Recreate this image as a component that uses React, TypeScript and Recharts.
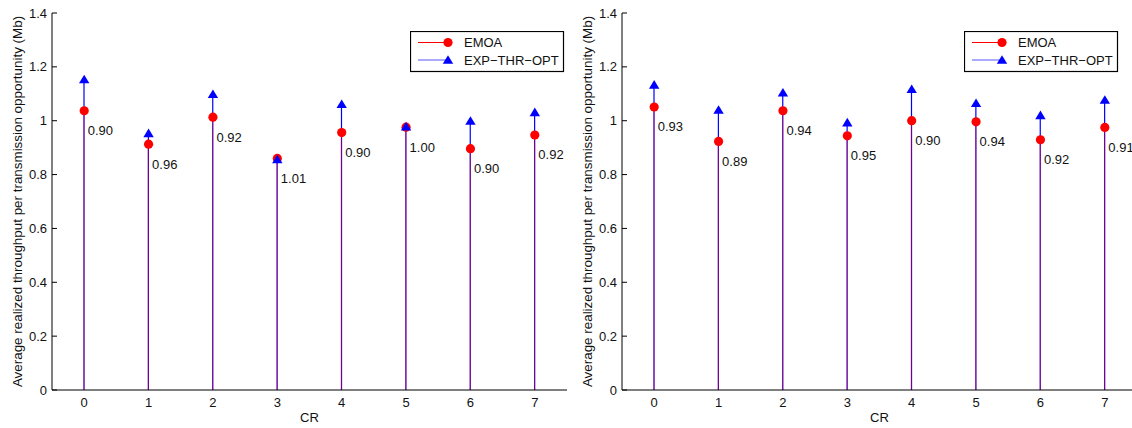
import React from 'react';
import {
  ComposedChart, Bar, Line, XAxis, YAxis, Legend, LabelList
} from 'recharts';

// CR categories shared by both panels
const crLabels = ['0', '1', '2', '3', '4', '5', '6', '7'];
const yTicks = [0, 0.2, 0.4, 0.6, 0.8, 1, 1.2, 1.4];

// left panel
const emoaLeft = [1.037, 0.913, 1.013, 0.86, 0.956, 0.976, 0.896, 0.947];
const optLeft = [1.153, 0.953, 1.098, 0.856, 1.061, 0.978, 0.999, 1.031];
const ratioLeft = ['0.90', '0.96', '0.92', '1.01', '0.90', '1.00', '0.90', '0.92'];

// right panel
const emoaRight = [1.051, 0.923, 1.037, 0.944, 1.0, 0.996, 0.929, 0.975];
const optRight = [1.133, 1.04, 1.104, 0.993, 1.117, 1.065, 1.02, 1.077];
const ratioRight = ['0.93', '0.89', '0.94', '0.95', '0.90', '0.94', '0.92', '0.91'];

const FONT = '"Liberation Sans", Arial, Helvetica, sans-serif';
const RED = '#ff0000';
const BLUE = '#0000ff';
const TXT = '#111';

const W = 580;
const H = 428;

const buildRows = (emoa: number[], opt: number[], ratio: string[]) =>
  crLabels.map((cr, i) => ({ cr, emoa: emoa[i], opt: opt[i], ratio: ratio[i] }));

// stem drawn from the bar geometry (baseline -> value)
const stem = (color: string, opacity: number) => (props: any) => {
  const { x, y, width, height } = props;
  if (x == null || y == null) return <g />;
  const cx = x + width / 2;
  return (
    <line x1={cx} x2={cx} y1={y} y2={y + height} stroke={color} strokeOpacity={opacity} strokeWidth={1.2} />
  );
};

const redDot = (props: any) => {
  const { cx, cy, index } = props;
  return <circle key={`c-${index}`} cx={cx} cy={cy} r={4.6} fill={RED} />;
};

const blueTri = (props: any) => {
  const { cx, cy, index } = props;
  return (
    <polygon
      key={`t-${index}`}
      points={`${cx},${cy - 4.8} ${cx - 5.2},${cy + 3.8} ${cx + 5.2},${cy + 3.8}`}
      fill={BLUE}
    />
  );
};

const RatioLabel = (props: any) => {
  const { x, y, value } = props;
  return (
    <text x={x + 3.5} y={y + 20} dominantBaseline="central" fontSize={13} fontFamily={FONT} fill={TXT}>
      {value}
    </text>
  );
};

const LegendBox = () => (
  <svg width={155} height={42} style={{ display: 'block' }}>
    <rect x={0.5} y={0.5} width={153} height={40} fill="#fff" stroke="#000" strokeWidth={1.2} />
    <line x1={8} x2={38} y1={11.5} y2={11.5} stroke={RED} strokeWidth={1} />
    <circle cx={38} cy={11.5} r={4.6} fill={RED} />
    <text x={54} y={11.5} dominantBaseline="central" fontSize={13} fontFamily={FONT} fill={TXT}>EMOA</text>
    <line x1={8} x2={38} y1={29} y2={29} stroke="#5555ff" strokeWidth={1} />
    <polygon points="38,24.2 32.8,32.8 43.2,32.8" fill={BLUE} />
    <text x={54} y={29} dominantBaseline="central" fontSize={13} fontFamily={FONT} fill={TXT}>EXP−THR−OPT</text>
  </svg>
);

const YLabel = (props: any) => {
  const { viewBox } = props;
  const cx = viewBox.x + 17;
  const cy = viewBox.y + viewBox.height / 2;
  return (
    <text
      x={cx}
      y={cy}
      transform={`rotate(-90, ${cx}, ${cy})`}
      textAnchor="middle"
      dominantBaseline="central"
      fontSize={13.4}
      fontFamily={FONT}
      fill={TXT}
    >
      Average realized throughput per transmission opportunity (Mb)
    </text>
  );
};

const XLabel = (props: any) => {
  const { viewBox } = props;
  return (
    <text
      x={viewBox.x + viewBox.width / 2}
      y={viewBox.y + 27}
      textAnchor="middle"
      dominantBaseline="central"
      fontSize={13}
      fontFamily={FONT}
      fill={TXT}
    >
      CR
    </text>
  );
};

interface PanelProps {
  emoa: number[];
  opt: number[];
  ratio: string[];
  legendLeft: number;
}

const Panel: React.FC<PanelProps> = ({ emoa, opt, ratio, legendLeft }) => {
  const rows = buildRows(emoa, opt, ratio);
  const tickStyle = { fontSize: 13, fontFamily: FONT, fill: TXT };
  return (
    <ComposedChart width={W} height={H} data={rows} margin={{ top: 13, right: 13, bottom: 18, left: 0 }}>
      <XAxis
        dataKey="cr"
        height={20}
        axisLine={{ stroke: '#000' }}
        tickLine={false}
        tickSize={0}
        tickMargin={8}
        tick={tickStyle}
        label={<XLabel />}
      />
      <XAxis xAxisId="b" dataKey="cr" hide />
      <YAxis
        type="number"
        domain={[0, 1.4]}
        ticks={yTicks}
        width={52}
        axisLine={{ stroke: '#000' }}
        tickLine={{ stroke: '#000' }}
        tickSize={-5}
        tickMargin={10}
        tick={tickStyle}
        interval={0}
        label={<YLabel />}
      />
      <Legend
        layout="vertical"
        align="center"
        verticalAlign="middle"
        content={() => <LegendBox />}
        wrapperStyle={{ top: 31, left: legendLeft, width: 155, height: 42 }}
      />
      <Bar dataKey="opt" barSize={10} shape={stem(BLUE, 1)} isAnimationActive={false} />
      <Bar dataKey="emoa" xAxisId="b" barSize={10} shape={stem(RED, 0.45)} isAnimationActive={false} />
      <Line dataKey="emoa" stroke="none" dot={redDot} activeDot={false} isAnimationActive={false}>
        <LabelList dataKey="ratio" content={<RatioLabel />} />
      </Line>
      <Line dataKey="opt" stroke="none" dot={blueTri} activeDot={false} isAnimationActive={false} />
    </ComposedChart>
  );
};

export default function App() {
  return (
    <div style={{ position: 'absolute', left: 0, top: 0, width: 1132, height: 428, overflow: 'hidden', background: '#fff' }}>
      <div style={{ position: 'absolute', left: 0, top: 0 }}>
        <Panel emoa={emoaLeft} opt={optLeft} ratio={ratioLeft} legendLeft={410} />
      </div>
      <div style={{ position: 'absolute', left: 570, top: 0 }}>
        <Panel emoa={emoaRight} opt={optRight} ratio={ratioRight} legendLeft={394} />
      </div>
    </div>
  );
}
